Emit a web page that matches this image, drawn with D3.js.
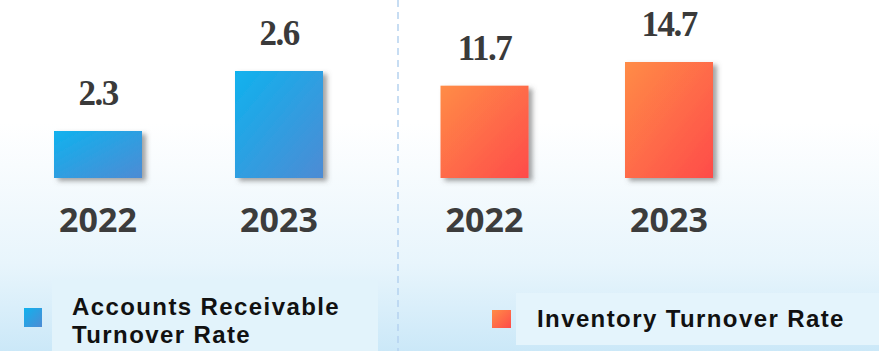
<!DOCTYPE html>
<meta charset="utf-8">
<style>
body { margin: 0; background: #fff; }
svg { display: block; }
.value { font-family: "Liberation Serif", serif; font-weight: bold; font-size: 35px; fill: #3a3a3a; letter-spacing: -1.5px; }
.year { font-family: "Open Sans", sans-serif; font-weight: bold; font-size: 34px; fill: #3c3c3c; }
.legend text { font-family: "Liberation Sans", Arial, sans-serif; font-weight: bold; font-size: 24px; fill: #111; letter-spacing: 1.4px; }
</style>
<svg width="879" height="351"></svg>
<script src="https://d3js.org/d3.v7.min.js"></script>
<script>

// data
let years = ["2022", "2023"];
let receivableValues = [2.3, 2.6];
let inventoryValues = [11.7, 14.7];
let seriesNames = [["Accounts Receivable", "Turnover Rate"], ["Inventory Turnover Rate"]];

let svg = d3.select("svg");
let width = +svg.attr("width");
let height = +svg.attr("height");
let baseY = 178;
let barW = 88;

let defs = svg.append("defs");

// background: white on top fading to pale blue at the bottom
let bg = defs.append("linearGradient").attr("id", "bg").attr("x1", 0).attr("y1", 0).attr("x2", 0).attr("y2", 1);
bg.append("stop").attr("offset", "0.35").attr("stop-color", "#ffffff");
bg.append("stop").attr("offset", "0.75").attr("stop-color", "#e8f5fc");
bg.append("stop").attr("offset", "1").attr("stop-color", "#cbe8f8");
svg.append("rect").attr("width", width).attr("height", height).attr("fill", "url(#bg)");

function grad(id, c1, c2) {
  let g = defs.append("linearGradient").attr("id", id).attr("x1", 0).attr("y1", 0).attr("x2", 1).attr("y2", 1);
  g.append("stop").attr("offset", "0").attr("stop-color", c1);
  g.append("stop").attr("offset", "1").attr("stop-color", c2);
}
grad("blue", "#10b2ee", "#4d8bd4");
grad("orange", "#ff8c46", "#fe4b4a");

let shadow = defs.append("filter").attr("id", "shadow").attr("x", "-10%").attr("y", "-10%").attr("width", "130%").attr("height", "130%");
shadow.append("feDropShadow").attr("dx", 4).attr("dy", 3).attr("stdDeviation", 2.5)
  .attr("flood-color", "#555").attr("flood-opacity", 0.55);

// divider
svg.append("line")
  .attr("x1", 398).attr("x2", 398).attr("y1", 0).attr("y2", height)
  .attr("stroke", "#b5d2ef").attr("stroke-width", 1.5).attr("stroke-dasharray", "7,5");

// legend panels
svg.append("rect").attr("x", 52).attr("y", 280).attr("width", 326).attr("height", 71).attr("fill", "#e2f3fb");
svg.append("rect").attr("x", 516).attr("y", 293).attr("width", 363).attr("height", 52).attr("fill", "#e4f4fc");

function panel(values, xRange, yDomain, fillId) {
  let x = d3.scalePoint().domain(years).range(xRange);
  let y = d3.scaleLinear().domain(yDomain).range([baseY, 62]);
  let rows = years.map((yr, i) => ({ year: yr, value: values[i] }));
  let g = svg.append("g");

  g.selectAll("rect.bar").data(rows).enter().append("rect")
    .attr("class", "bar")
    .attr("x", d => x(d.year) - barW / 2)
    .attr("y", d => y(d.value))
    .attr("width", barW)
    .attr("height", d => baseY - y(d.value))
    .attr("fill", "url(#" + fillId + ")")
    .attr("filter", "url(#shadow)");

  g.selectAll("text.value").data(rows).enter().append("text")
    .attr("class", "value")
    .attr("text-anchor", "middle")
    .attr("x", d => x(d.year))
    .attr("y", d => y(d.value) - 26)
    .text(d => d.value.toFixed(1));

  g.selectAll("text.year").data(rows).enter().append("text")
    .attr("class", "year")
    .attr("text-anchor", "middle")
    .attr("x", d => x(d.year))
    .attr("y", 232)
    .text(d => d.year);
}

// left panel does not start at zero
panel(receivableValues, [98, 279], [2.065, 2.6 + 9 / 200], "blue");
panel(inventoryValues, [484.5, 669], [0, 14.7], "orange");

// legends
let legend = svg.append("g").attr("class", "legend");
legend.append("rect").attr("x", 24).attr("y", 308).attr("width", 18).attr("height", 19).attr("fill", "url(#blue)");
legend.selectAll("text.l1").data(seriesNames[0]).enter().append("text")
  .attr("class", "l1")
  .attr("x", 72).attr("y", (d, i) => 315 + i * 28).text(d => d);

legend.append("rect").attr("x", 492).attr("y", 310).attr("width", 19).attr("height", 18).attr("fill", "url(#orange)");
legend.append("text").attr("x", 537).attr("y", 327).text(seriesNames[1][0]);

</script>
